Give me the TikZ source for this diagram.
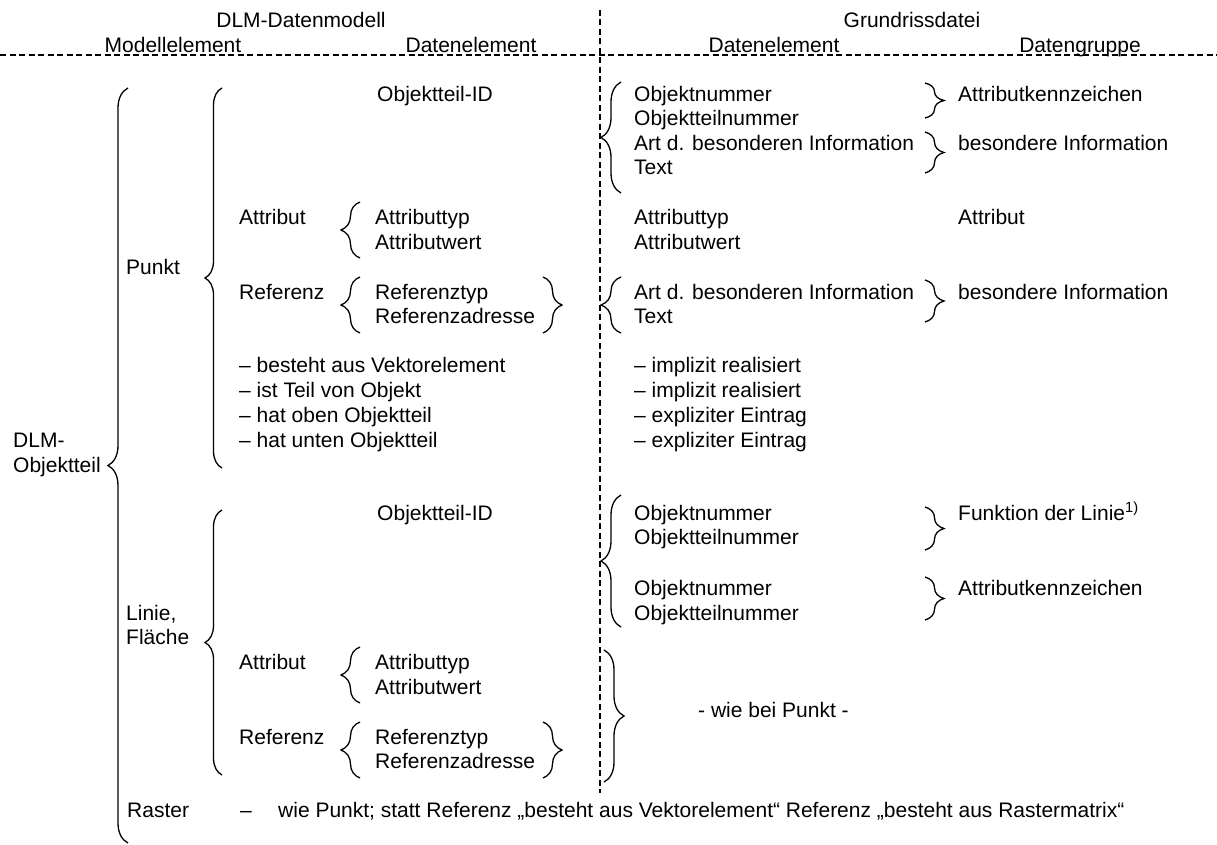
\documentclass[tikz,border=0pt]{standalone}
\usepackage{fontspec}
\setmainfont{Liberation Sans}
\usetikzlibrary{decorations.pathreplacing}

\begin{document}
\begin{tikzpicture}[x=1pt, y=-1pt,
  every node/.style={inner sep=0pt, text height=15pt, text depth=0pt, font=\fontsize{21}{25}\selectfont},
  lt/.style={anchor=west},
  brc/.style={decorate, decoration={brace, amplitude=#1}, line width=1.3pt},
  brc/.default=19pt,
  sep/.style={line width=1.3pt, dash pattern=on 6pt off 3.5pt}]
\useasboundingbox (0,0) rectangle (1217,845);
\draw[sep] (0,55) -- (1217,55);
\draw[sep] (600,10) -- (600,793);
\node (dlmdm) at (301,20) {DLM-Datenmodell};
\node (melem) at (173,45) {Modellelement};
\node (delemL) at (471,45) {Datenelement};
\node (grund) at (912,20) {Grundrissdatei};
\node (delemR) at (774,45) {Datenelement};
\node (dgruppe) at (1080,45) {Datengruppe};
\node[lt] (dlm) at (13,440) {DLM-};
\node[lt] (objteil) at (13,465) {Objektteil};
\draw[brc=20pt] (128,843) -- (128,88);
\node[lt] (punkt) at (126,267) {Punkt};
\node[lt] (linie) at (126,613) {Linie,};
\node[lt] (flaeche) at (126,637) {Fläche};
\node[lt] (raster) at (127,810) {Raster};
\draw[brc=17pt] (222,468) -- (222,88);
\draw[brc=17pt] (222,775) -- (222,510);
\node (idP) at (435,94) {Objektteil-ID};
\node (idL) at (435,513) {Objektteil-ID};
\foreach \n/\y in {P/217, L/662}{
\node[lt] (att\n) at (239,\y) {Attribut};
\node[lt] (atyp\n) at (375,\y) {Attributtyp};
\node[lt] (awert\n) at (375,\y+25) {Attributwert};
\draw[brc] (360,\y+41) -- (360,\y-15);
}
\foreach \n/\y in {P/292, L/737}{
\node[lt] (ref\n) at (239,\y) {Referenz};
\node[lt] (rtyp\n) at (375,\y) {Referenztyp};
\node[lt] (radr\n) at (375,\y+24) {Referenzadresse};
\draw[brc] (360,\y+41) -- (360,\y-15);
\draw[brc] (543,\y-15) -- (543,\y+41);
}
\foreach \t/\y in {besteht aus Vektorelement/365, ist Teil von Objekt/390, hat oben Objektteil/415, hat unten Objektteil/440}
\node[lt] (liste\y) at (239,\y) {\textendash\ \t};
\foreach \t/\y in {implizit realisiert/365, implizit realisiert/390, expliziter Eintrag/415, expliziter Eintrag/440}
\node[lt] (gliste\y) at (634,\y) {\textendash\ \t};
\node[lt] (onrP) at (634,94) {Objektnummer};
\node[lt] (otnrP) at (634,118) {Objektteilnummer};
\node[lt] (artP) at (634,143) {Art d. besonderen Information};
\node[lt] (textP) at (634,167) {Text};
\draw[brc=20pt] (621,193) -- (621,82);
\draw[brc] (925,83) -- (925,118);
\draw[brc] (925,132) -- (925,173);
\node[lt] (akzP) at (958,94) {Attributkennzeichen};
\node[lt] (binfP) at (958,143) {besondere Information};
\node[lt] (gatyp) at (634,217) {Attributtyp};
\node[lt] (gawert) at (634,242) {Attributwert};
\node[lt] (gatt) at (958,217) {Attribut};
\node[lt] (gart) at (634,292) {Art d. besonderen Information};
\node[lt] (gtext) at (634,316) {Text};
\draw[brc=20pt] (621,333) -- (621,277);
\draw[brc] (925,280) -- (925,322);
\node[lt] (gbinf) at (958,292) {besondere Information};
\node[lt] (onrL) at (634,513) {Objektnummer};
\node[lt] (otnrL) at (634,537) {Objektteilnummer};
\node[lt] (onrL2) at (634,588) {Objektnummer};
\node[lt] (otnrL2) at (634,613) {Objektteilnummer};
\draw[brc=20pt] (621,627) -- (621,495);
\draw[brc] (925,507) -- (925,550);
\draw[brc] (925,577) -- (925,620);
\node[lt] (funkt) at (958,513) {Funktion der Linie\textsuperscript{1)}};
\node[lt] (akzL) at (958,588) {Attributkennzeichen};
\draw[brc=20pt] (604,650) -- (604,782);
\node[lt] (wiebei) at (698,710) {- wie bei Punkt -};
\node[lt] (rdash) at (240,810) {\textendash};
\node[lt] (rtext) at (278,810) {wie Punkt; statt Referenz „besteht aus Vektorelement“ Referenz „besteht aus Rastermatrix“};
\end{tikzpicture}
\end{document}
